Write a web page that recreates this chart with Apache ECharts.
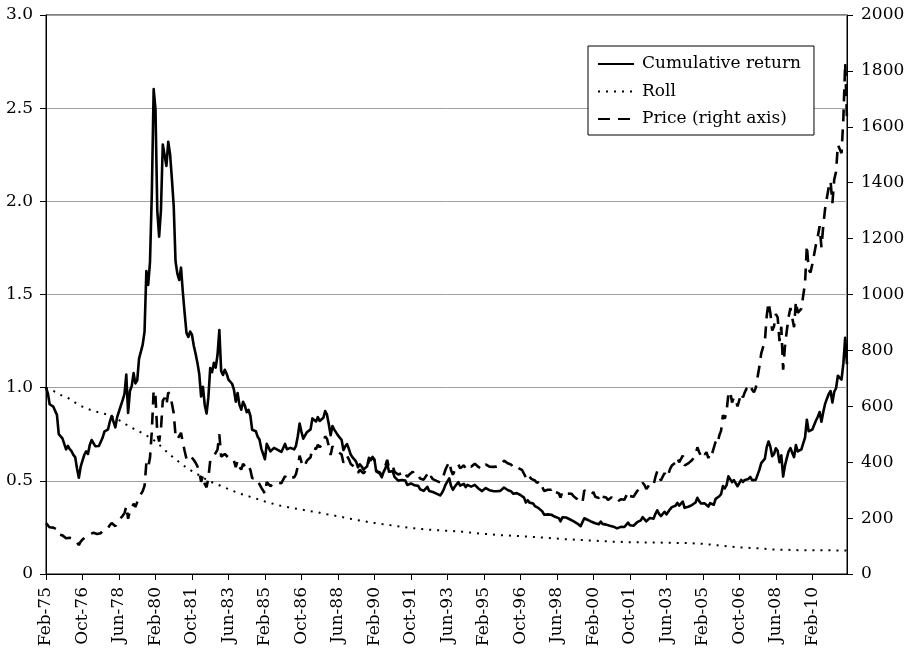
<!DOCTYPE html>
<html>
<head>
<meta charset="utf-8">
<title>Cumulative return, roll and price</title>
<script src="https://cdn.jsdelivr.net/npm/echarts@6.0.0/dist/echarts.min.js"></script>
<style>
  html, body { margin: 0; padding: 0; background: #fff; }
  #chart { width: 908px; height: 652px; }
</style>
</head>
<body>
<div id="chart"></div>
<script>
// Monthly observations, Feb 1975 through Sep 2011 (one row per calendar year).
const cumulativeReturn = [
  1.000, 0.971, 0.911, 0.907, 0.898, 0.897, 0.854, 0.751, 0.755, 0.728, 0.735,
  0.669, 0.688, 0.670, 0.659, 0.639, 0.627, 0.566, 0.517, 0.576, 0.609, 0.640, 0.658,
  0.644, 0.693, 0.719, 0.709, 0.686, 0.684, 0.687, 0.695, 0.731, 0.764, 0.757, 0.776,
  0.818, 0.848, 0.840, 0.787, 0.842, 0.832, 0.903, 0.933, 0.966, 1.070, 0.864, 0.982,
  1.009, 1.078, 1.023, 1.039, 1.156, 1.160, 1.231, 1.300, 1.626, 1.551, 1.674, 2.045,
  2.602, 2.495, 1.949, 1.810, 1.952, 2.305, 2.311, 2.190, 2.320, 2.253, 2.121, 1.974,
  1.677, 1.612, 1.578, 1.644, 1.512, 1.399, 1.294, 1.272, 1.301, 1.284, 1.225, 1.182,
  1.133, 1.073, 0.953, 1.005, 0.907, 0.861, 0.949, 1.105, 1.083, 1.133, 1.108, 1.175,
  1.309, 1.090, 1.068, 1.096, 1.075, 1.043, 1.049, 1.021, 0.989, 0.925, 0.971, 0.909,
  0.882, 0.924, 0.904, 0.868, 0.881, 0.850, 0.774, 0.782, 0.766, 0.737, 0.722, 0.673,
  0.663, 0.616, 0.699, 0.679, 0.658, 0.661, 0.677, 0.683, 0.666, 0.658, 0.655, 0.653,
  0.698, 0.670, 0.677, 0.677, 0.668, 0.669, 0.688, 0.739, 0.808, 0.763, 0.726, 0.735,
  0.761, 0.757, 0.776, 0.835, 0.829, 0.819, 0.842, 0.821, 0.826, 0.838, 0.875, 0.855,
  0.804, 0.745, 0.794, 0.775, 0.782, 0.744, 0.740, 0.720, 0.665, 0.685, 0.697, 0.672,
  0.641, 0.626, 0.615, 0.602, 0.573, 0.589, 0.577, 0.560, 0.566, 0.578, 0.624, 0.611,
  0.628, 0.614, 0.551, 0.548, 0.539, 0.519, 0.547, 0.567, 0.593, 0.549, 0.553, 0.552,
  0.521, 0.513, 0.501, 0.502, 0.504, 0.511, 0.501, 0.478, 0.486, 0.486, 0.496, 0.476,
  0.476, 0.473, 0.455, 0.446, 0.446, 0.451, 0.468, 0.445, 0.455, 0.440, 0.434, 0.431,
  0.427, 0.422, 0.435, 0.454, 0.480, 0.483, 0.513, 0.472, 0.452, 0.468, 0.467, 0.493,
  0.474, 0.476, 0.484, 0.466, 0.478, 0.476, 0.469, 0.469, 0.478, 0.469, 0.459, 0.457,
  0.445, 0.445, 0.461, 0.459, 0.450, 0.451, 0.445, 0.444, 0.444, 0.440, 0.446, 0.443,
  0.464, 0.456, 0.451, 0.445, 0.443, 0.431, 0.434, 0.434, 0.425, 0.424, 0.415, 0.410,
  0.384, 0.396, 0.383, 0.374, 0.378, 0.364, 0.355, 0.353, 0.358, 0.336, 0.318, 0.310,
  0.320, 0.316, 0.318, 0.324, 0.307, 0.310, 0.300, 0.283, 0.304, 0.301, 0.303, 0.294,
  0.294, 0.292, 0.284, 0.290, 0.272, 0.263, 0.257, 0.255, 0.299, 0.298, 0.290, 0.287,
  0.280, 0.289, 0.272, 0.269, 0.267, 0.281, 0.269, 0.268, 0.265, 0.255, 0.259, 0.263,
  0.254, 0.254, 0.245, 0.250, 0.253, 0.256, 0.252, 0.257, 0.276, 0.262, 0.259, 0.259,
  0.264, 0.278, 0.282, 0.288, 0.305, 0.296, 0.283, 0.291, 0.301, 0.295, 0.297, 0.323,
  0.342, 0.323, 0.311, 0.311, 0.334, 0.320, 0.328, 0.347, 0.359, 0.357, 0.366, 0.382,
  0.367, 0.364, 0.389, 0.355, 0.359, 0.361, 0.355, 0.370, 0.377, 0.384, 0.409, 0.391,
  0.378, 0.388, 0.379, 0.383, 0.362, 0.380, 0.370, 0.372, 0.403, 0.394, 0.417, 0.429,
  0.472, 0.459, 0.477, 0.524, 0.528, 0.493, 0.504, 0.494, 0.471, 0.475, 0.505, 0.494,
  0.505, 0.515, 0.510, 0.521, 0.504, 0.497, 0.505, 0.510, 0.560, 0.595, 0.586, 0.619,
  0.681, 0.711, 0.683, 0.632, 0.643, 0.675, 0.661, 0.600, 0.637, 0.523, 0.582, 0.622,
  0.658, 0.676, 0.650, 0.627, 0.692, 0.658, 0.661, 0.669, 0.701, 0.732, 0.828, 0.766,
  0.759, 0.775, 0.779, 0.824, 0.844, 0.869, 0.817, 0.870, 0.913, 0.941, 0.966, 0.982,
  0.920, 0.978, 0.997, 1.064, 1.065, 1.043, 1.129, 1.268, 1.126
];

const roll = [
  1.000, 0.996, 0.992, 0.987, 0.983, 0.978, 0.972, 0.966, 0.961, 0.957, 0.953,
  0.949, 0.945, 0.940, 0.933, 0.926, 0.920, 0.914, 0.908, 0.903, 0.898, 0.893, 0.889,
  0.885, 0.882, 0.878, 0.875, 0.872, 0.870, 0.867, 0.865, 0.862, 0.860, 0.857, 0.855,
  0.850, 0.846, 0.841, 0.837, 0.831, 0.826, 0.820, 0.815, 0.809, 0.802, 0.796, 0.790,
  0.785, 0.780, 0.775, 0.770, 0.765, 0.760, 0.755, 0.750, 0.744, 0.738, 0.732, 0.726,
  0.720, 0.712, 0.703, 0.694, 0.685, 0.676, 0.667, 0.658, 0.649, 0.640, 0.632, 0.624,
  0.616, 0.608, 0.600, 0.592, 0.585, 0.578, 0.571, 0.564, 0.558, 0.552, 0.546, 0.540,
  0.535, 0.530, 0.525, 0.519, 0.512, 0.505, 0.500, 0.496, 0.492, 0.488, 0.484, 0.480,
  0.476, 0.472, 0.468, 0.464, 0.460, 0.456, 0.452, 0.448, 0.444, 0.440, 0.436, 0.432,
  0.429, 0.426, 0.423, 0.420, 0.417, 0.414, 0.411, 0.408, 0.405, 0.402, 0.399, 0.396,
  0.393, 0.389, 0.386, 0.384, 0.381, 0.378, 0.376, 0.373, 0.371, 0.368, 0.366, 0.363,
  0.362, 0.360, 0.358, 0.356, 0.354, 0.352, 0.350, 0.349, 0.347, 0.346, 0.344, 0.342,
  0.341, 0.339, 0.338, 0.336, 0.334, 0.333, 0.331, 0.329, 0.327, 0.325, 0.323, 0.321,
  0.319, 0.318, 0.316, 0.314, 0.312, 0.310, 0.308, 0.306, 0.304, 0.302, 0.300, 0.298,
  0.296, 0.294, 0.292, 0.290, 0.288, 0.287, 0.285, 0.283, 0.281, 0.280, 0.278, 0.277,
  0.275, 0.274, 0.272, 0.271, 0.270, 0.268, 0.267, 0.266, 0.264, 0.263, 0.261, 0.260,
  0.259, 0.257, 0.256, 0.255, 0.254, 0.252, 0.251, 0.250, 0.249, 0.247, 0.246, 0.245,
  0.244, 0.243, 0.242, 0.241, 0.240, 0.239, 0.238, 0.238, 0.237, 0.236, 0.236, 0.235,
  0.235, 0.234, 0.234, 0.233, 0.233, 0.232, 0.232, 0.231, 0.231, 0.230, 0.229, 0.229,
  0.228, 0.227, 0.226, 0.225, 0.224, 0.223, 0.222, 0.221, 0.220, 0.219, 0.218, 0.217,
  0.216, 0.215, 0.214, 0.214, 0.213, 0.212, 0.211, 0.211, 0.210, 0.209, 0.209, 0.208,
  0.208, 0.207, 0.207, 0.206, 0.206, 0.205, 0.205, 0.204, 0.204, 0.203, 0.203, 0.202,
  0.202, 0.201, 0.200, 0.200, 0.199, 0.198, 0.198, 0.197, 0.196, 0.196, 0.195, 0.194,
  0.193, 0.193, 0.192, 0.191, 0.190, 0.190, 0.189, 0.188, 0.188, 0.187, 0.187, 0.186,
  0.186, 0.185, 0.185, 0.184, 0.184, 0.183, 0.183, 0.182, 0.182, 0.181, 0.181, 0.180,
  0.180, 0.179, 0.179, 0.178, 0.178, 0.177, 0.177, 0.176, 0.176, 0.175, 0.175, 0.174,
  0.174, 0.173, 0.173, 0.173, 0.172, 0.172, 0.172, 0.171, 0.171, 0.171, 0.171, 0.170,
  0.170, 0.170, 0.170, 0.170, 0.170, 0.169, 0.169, 0.169, 0.169, 0.169, 0.169, 0.169,
  0.169, 0.169, 0.169, 0.168, 0.168, 0.168, 0.168, 0.168, 0.168, 0.168, 0.167, 0.167,
  0.167, 0.167, 0.167, 0.166, 0.166, 0.166, 0.165, 0.165, 0.165, 0.164, 0.164, 0.163,
  0.163, 0.162, 0.161, 0.160, 0.159, 0.158, 0.157, 0.156, 0.155, 0.154, 0.153, 0.152,
  0.151, 0.150, 0.149, 0.148, 0.147, 0.146, 0.145, 0.144, 0.143, 0.143, 0.142, 0.142,
  0.141, 0.141, 0.140, 0.140, 0.139, 0.139, 0.138, 0.138, 0.137, 0.137, 0.136, 0.135,
  0.134, 0.133, 0.133, 0.132, 0.132, 0.132, 0.131, 0.131, 0.131, 0.130, 0.130, 0.130,
  0.130, 0.129, 0.129, 0.129, 0.129, 0.128, 0.128, 0.128, 0.128, 0.128, 0.128, 0.128,
  0.128, 0.127, 0.127, 0.127, 0.127, 0.127, 0.127, 0.127, 0.127, 0.127, 0.127, 0.127,
  0.126, 0.126, 0.126, 0.126, 0.126, 0.126, 0.126, 0.126, 0.126
];

const price = [
  181.8, 177.3, 167.0, 167.0, 166.0, 166.7, 159.8, 141.3, 142.9, 138.2, 140.3,
  128.2, 132.3, 129.6, 128.4, 125.5, 123.8, 112.5, 103.5, 116.0, 123.2, 130.3, 134.5,
  132.3, 142.8, 148.9, 147.4, 143.0, 143.0, 144.1, 146.1, 154.1, 161.5, 160.5, 165.0,
  175.0, 182.3, 181.6, 170.9, 184.2, 183.1, 200.3, 208.1, 217.1, 242.6, 197.4, 226.0,
  233.7, 251.3, 240.0, 245.3, 274.6, 277.5, 296.5, 315.1, 397.3, 382.0, 415.7, 512.0,
  657, 637, 504, 474, 518, 620, 630, 605, 650, 640, 610, 575,
  495, 482, 478, 505, 470, 440, 412, 410, 424, 423, 408, 398,
  385, 368, 330, 352, 322, 310, 345, 405, 400, 422, 416, 445,
  500, 420, 414.75, 429.25, 425, 416, 422, 414.25, 405, 382, 405, 382.4,
  373.75, 394.25, 388.5, 375.8, 384.25, 373.1, 342.4, 348.25, 343.75, 333.5, 329, 309,
  306.7, 287.8, 329.25, 321.4, 314, 317.75, 327.5, 333.1, 326.1, 325.1, 325.3, 326.8,
  350.5, 338.15, 344, 345.75, 342.9, 345.75, 357.5, 384.7, 423.2, 401, 383.5, 390.9,
  405.5, 405.9, 417.5, 452, 451, 447.25, 462.5, 453.4, 459.5, 468.8, 492.5, 484.1,
  458, 426.15, 457, 449, 455.5, 436.55, 436.8, 427.75, 397.7, 412.4, 422.6, 410.25,
  394, 387, 383.2, 377.6, 361.8, 373, 368.3, 359.8, 366.5, 375.3, 408.15, 401,
  415.05, 407.7, 368.5, 367.75, 363.05, 352.2, 372.3, 387.75, 408.35, 379.5, 384.85, 386.2,
  366, 362.7, 355.65, 357.75, 360.4, 368.4, 362.95, 347.4, 354.9, 357.45, 366.3, 353.15,
  354.45, 353.75, 341.7, 336.4, 337.5, 343.4, 357.8, 340, 349, 339.25, 334.2, 333.25,
  330.45, 327.6, 337.8, 354.3, 374.8, 378.5, 401.8, 371.6, 355.5, 369.6, 370.9, 391.75,
  377.9, 381.6, 389.2, 376.45, 387.6, 388.25, 384, 385.75, 394.85, 389.1, 383.1, 383.25,
  374.9, 376.4, 392, 389.75, 384.3, 387.05, 383.35, 382.35, 384, 382.65, 387.8, 387,
  405.55, 400.65, 396.35, 392.85, 391.25, 382, 385.3, 386.45, 379, 379.5, 371.3, 369.25,
  345.5, 358.6, 348.2, 340.15, 345.6, 334.6, 326.4, 325.35, 332.1, 311.4, 296.8, 290.2,
  301.45, 297.4, 301.45, 308.7, 293.6, 296.3, 288.9, 273.4, 293.85, 292.3, 294.7, 287.45,
  287.1, 287.33, 279.45, 286.6, 268.6, 261, 255.6, 254.8, 299, 299.1, 291.35, 290.25,
  283.3, 293.65, 276.75, 275.1, 272.25, 288.15, 276.75, 277, 273.65, 264.5, 269.1, 274.45,
  265.6, 266.7, 257.7, 263.15, 267.5, 270.6, 265.9, 273, 293.1, 278.75, 275.5, 276.5,
  282.3, 296.85, 301.4, 308.2, 326.6, 318.5, 304.65, 312.8, 323.7, 316.9, 319.05, 347.2,
  367.5, 347.45, 334.85, 336.75, 361.4, 346, 354.75, 375.6, 388, 386.25, 398.35, 416.25,
  399.75, 395.85, 423.7, 388.5, 393.25, 395.8, 391.4, 407.25, 415.65, 425.55, 453.4, 435.6,
  422.15, 435.45, 427.5, 435.7, 414.45, 437.1, 429, 433.25, 473.25, 465, 495.65, 513,
  568.75, 556, 582, 644, 653, 613.5, 632.5, 623.5, 599.25, 603.75, 646.7, 632,
  650.5, 664.2, 661.75, 677, 659.1, 650.5, 665.5, 672, 743, 789.5, 783.5, 833.75,
  923.25, 971.5, 933.5, 871, 885.75, 930.25, 918, 833, 884.5, 730.75, 814.5, 869.75,
  919.5, 952, 916.5, 883.25, 975.5, 934.5, 939, 949.5, 995.75, 1040, 1175.75, 1087.5,
  1078.5, 1109.5, 1115.5, 1179.25, 1207.5, 1244.5, 1169, 1246, 1307, 1346.75, 1383.5, 1405.5,
  1327, 1411, 1439, 1535.5, 1536.5, 1505.5, 1628.5, 1829, 1624
];

// Month labels, e.g. "Feb-75"; first observation is February 1975.
const monthNames = ['Jan', 'Feb', 'Mar', 'Apr', 'May', 'Jun', 'Jul', 'Aug', 'Sep', 'Oct', 'Nov', 'Dec'];
const startYear = 1975;
const startMonth = 1; // February
const months = [];
for (let k = 0; k < price.length; k++) {
  const m = (startMonth + k) % 12;
  const y = startYear + Math.floor((startMonth + k) / 12);
  months.push(monthNames[m] + '-' + String(y % 100).padStart(2, '0'));
}

const leftTicks = { min: 0, max: 3, interval: 0.5 };
const rightTicks = { min: 0, max: 2000, interval: 200 };
const labelEvery = 20;

const FONT = 'DejaVu Serif';
const INK = '#000';

const chart = echarts.init(document.getElementById('chart'), null, { renderer: 'canvas' });

chart.setOption({
  animation: false,
  backgroundColor: '#fff',
  textStyle: { fontFamily: FONT, color: INK },
  grid: {
    left: 46, right: 61, top: 15, bottom: 78,
    show: true, borderColor: INK, borderWidth: 1, backgroundColor: 'transparent'
  },
  legend: {
    orient: 'vertical',
    left: 588, top: 46,
    padding: [8, 13, 6, 9],
    itemWidth: 36, itemHeight: 14, itemGap: 7.5,
    borderColor: INK, borderWidth: 1, borderRadius: 0,
    backgroundColor: '#fff',
    // line-only keys: hide the marker that line series add to their key
    itemStyle: { opacity: 0 },
    textStyle: { fontFamily: FONT, fontSize: 17, color: INK, lineHeight: 20, padding: [0, 0, 0, 3] },
    selectedMode: false,
    data: ['Cumulative return', 'Roll', 'Price (right axis)']
  },
  xAxis: {
    type: 'category',
    data: months,
    boundaryGap: false,
    axisLine: { show: true, lineStyle: { color: INK, width: 1 } },
    axisTick: { show: true, interval: labelEvery - 1, length: 6, lineStyle: { color: INK, width: 1 } },
    axisLabel: {
      interval: labelEvery - 1, rotate: 90, margin: 13,
      fontFamily: FONT, fontSize: 17, color: INK
    },
    splitLine: { show: false }
  },
  yAxis: [
    {
      type: 'value',
      position: 'left',
      min: leftTicks.min, max: leftTicks.max, interval: leftTicks.interval,
      axisLine: { show: true, lineStyle: { color: INK, width: 1 } },
      axisTick: { show: true, length: 6, lineStyle: { color: INK, width: 1 } },
      axisLabel: {
        margin: 13, fontFamily: FONT, fontSize: 17, color: INK,
        formatter: v => (v === 0 ? '0' : v.toFixed(1))
      },
      splitLine: { show: true, lineStyle: { color: '#a0a0a0', width: 1 } }
    },
    {
      type: 'value',
      position: 'right',
      min: rightTicks.min, max: rightTicks.max, interval: rightTicks.interval,
      axisLine: { show: true, lineStyle: { color: INK, width: 1 } },
      axisTick: { show: true, length: 6, lineStyle: { color: INK, width: 1 } },
      axisLabel: {
        margin: 14, fontFamily: FONT, fontSize: 17, color: INK,
        formatter: v => String(v)
      },
      splitLine: { show: false }
    }
  ],
  series: [
    {
      name: 'Cumulative return',
      type: 'line',
      yAxisIndex: 0,
      data: cumulativeReturn,
      symbol: 'none',
      z: 4,
      lineStyle: { color: INK, width: 2.6, join: 'round' },
      itemStyle: { color: INK },
      emphasis: { disabled: true }
    },
    {
      name: 'Roll',
      type: 'line',
      yAxisIndex: 0,
      data: roll,
      symbol: 'none',
      z: 3,
      lineStyle: { color: INK, width: 2, type: [2, 6] },
      itemStyle: { color: INK },
      emphasis: { disabled: true }
    },
    {
      name: 'Price (right axis)',
      type: 'line',
      yAxisIndex: 1,
      data: price,
      symbol: 'none',
      z: 2,
      lineStyle: { color: INK, width: 2.6, type: [12, 8] },
      itemStyle: { color: INK },
      emphasis: { disabled: true }
    }
  ]
});
</script>
</body>
</html>
